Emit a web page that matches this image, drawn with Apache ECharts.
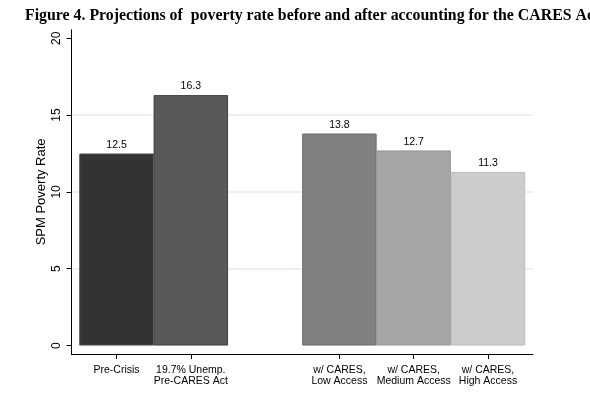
<!DOCTYPE html>
<html>
<head>
<meta charset="utf-8">
<script src="https://cdn.jsdelivr.net/npm/echarts@6/dist/echarts.min.js"></script>
<style>html,body{margin:0;padding:0;background:#fff}#c{width:590px;height:393px}</style>
</head>
<body>
<div id="c"></div>
<script>
var titleText = "Figure 4. Projections of  poverty rate before and after accounting for the CARES Act";
var categories = ["Pre-Crisis", "19.7% Unemp.\nPre-CARES Act", "w/ CARES,\nLow Access", "w/ CARES,\nMedium Access", "w/ CARES,\nHigh Access"];
var positions = [0, 1, 3, 4, 5];
var values = [12.5, 16.3, 13.8, 12.7, 11.3];
var fills = ["#333333", "#595959", "#808080", "#a6a6a6", "#cccccc"];
var borders = ["#4d4d4d", "#404040", "#6e6e6e", "#999999", "#bdbdbd"];
var yTicks = [0, 5, 10, 15, 20];
var gridValues = [5, 10, 15];

var chart = echarts.init(document.getElementById('c'), null, {renderer: 'canvas'});
var data = values.map(function (v, i) {
  return {value: [positions[i], v], itemStyle: {color: fills[i], borderColor: borders[i], borderWidth: 1}};
});
chart.setOption({
  animation: false,
  backgroundColor: '#ffffff',
  title: {
    text: titleText, left: 20, top: 3,
    textStyle: {fontFamily: 'Liberation Serif', fontWeight: 'bold', fontSize: 15.85, color: '#000'}
  },
  grid: {left: 71.5, right: 57, top: 29.8, bottom: 39},
  xAxis: {
    type: 'value', min: -0.606, max: 5.606,
    axisLine: {show: true, onZero: false, lineStyle: {color: '#000', width: 1}},
    axisTick: {show: true, length: 5, customValues: positions, lineStyle: {color: '#000'}},
    axisLabel: {
      customValues: positions, margin: 11, color: '#000', fontFamily: 'Liberation Sans', fontSize: 10.5, lineHeight: 11,
      formatter: function (v) { var i = positions.indexOf(Math.round(v)); return i >= 0 ? categories[i] : ''; }
    },
    splitLine: {show: false}
  },
  yAxis: {
    type: 'value', min: -0.55, max: 20.55,
    name: 'SPM Poverty Rate', nameLocation: 'middle', nameGap: 24, nameRotate: 90, nameMoveOverlap: false,
    nameTextStyle: {fontFamily: 'Liberation Sans', fontSize: 13, color: '#000'},
    axisLine: {show: true, onZero: false, lineStyle: {color: '#000', width: 1}},
    axisTick: {show: true, length: 5, customValues: yTicks, lineStyle: {color: '#000'}},
    axisLabel: {customValues: yTicks, rotate: 90, margin: 9, color: '#000', fontFamily: 'Liberation Sans', fontSize: 12},
    splitLine: {show: false}
  },
  series: [{
    type: 'bar', data: data, barWidth: 74.5,
    label: {show: true, position: 'top', distance: 3, color: '#000', fontFamily: 'Liberation Sans', fontSize: 10.5,
      formatter: function (p) { return p.value[1].toFixed(1); }},
    markLine: {
      silent: true, symbol: 'none', z: 0, label: {show: false},
      lineStyle: {color: '#e4eef0', width: 1.5, type: 'solid'},
      data: gridValues.map(function (g) { return {yAxis: g}; })
    },
    z: 2
  }]
});
</script>
</body>
</html>
